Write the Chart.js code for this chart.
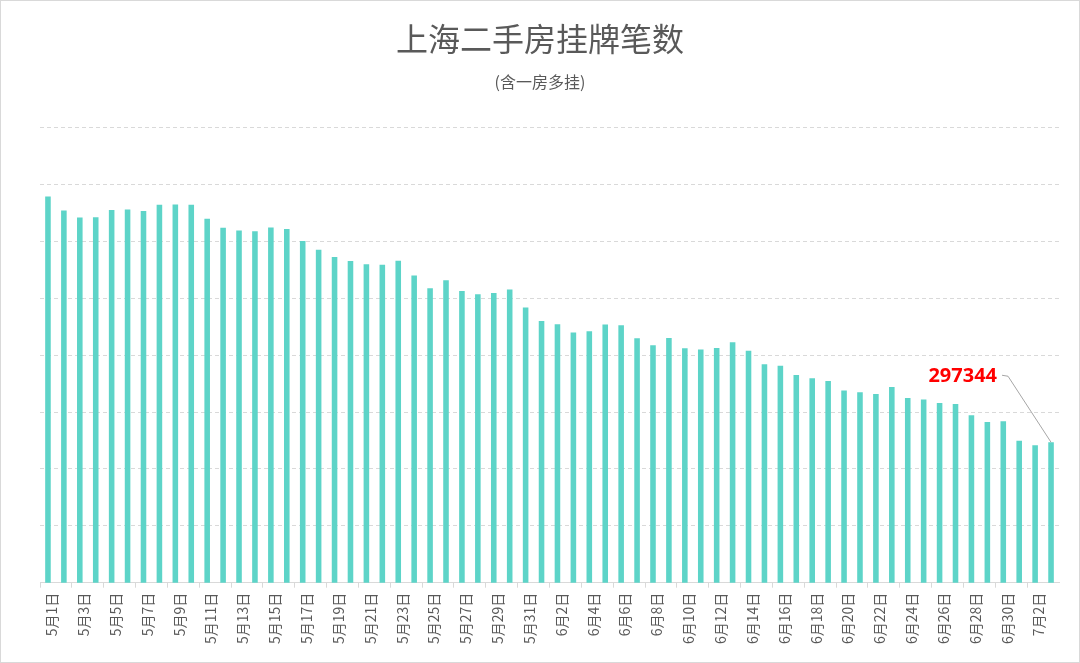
<!DOCTYPE html>
<html>
<head>
<meta charset="utf-8">
<script src="https://cdn.jsdelivr.net/npm/chart.js@4.4.1/dist/chart.umd.min.js"></script>
<style>
  html, body { margin: 0; padding: 0; background: #fff; }
  #wrap { width: 1080px; height: 663px; }
</style>
</head>
<body>
<div id="wrap"><canvas id="listingChart" width="1080" height="663"></canvas></div>
<script>
// 5月1日 - 7月3日, one bar per day
const monthDays = [["5月", 31], ["6月", 30], ["7月", 3]];
const dates = [];
monthDays.forEach(([m, n]) => { for (let d = 1; d <= n; d++) dates.push(`${m}${d}日`); });

// listings per day (last value labelled)
const listings = [
  318950, 317720, 317100, 317120, 317750, 317810, 317660, 318220, 318230, 318210,
  316990, 316200, 315960, 315880, 316230, 316080, 315030, 314270, 313620, 313270,
  312980, 312950, 313290, 311990, 310880, 311580, 310640, 310350, 310470, 310760,
  309180, 308010, 307720, 306990, 307100, 307690, 307630, 306490, 305880, 306500,
  305610, 305500, 305620, 306140, 305380, 304210, 304060, 303250, 302960, 302720,
  301900, 301730, 301580, 302190, 301230, 301110, 300790, 300700, 299710, 299120,
  299180, 297480, 297080, 297344
];

const yMin = 285000;
const yMax = 325000;
const yStep = 5000;

const textColor = "#595959";
const lineColor = "#d9d9d9";
const cjk = "'Noto Sans CJK SC', 'Noto Sans', sans-serif";

// red callout for the latest value + thin frame round the picture
const calloutPlugin = {
  id: "callout",
  afterDatasetsDraw(chart) {
    const {ctx, scales: {x, y}} = chart;
    const last = listings.length - 1;
    const bx = x.getPixelForValue(last);
    const by = y.getPixelForValue(listings[last]);
    ctx.save();
    ctx.strokeStyle = "#a6a6a6";
    ctx.lineWidth = 1;
    ctx.beginPath();
    ctx.moveTo(bx - 49, by - 67);
    ctx.lineTo(bx - 43, by - 66);
    ctx.lineTo(bx, by);
    ctx.stroke();
    ctx.fillStyle = "#ff0000";
    ctx.font = "bold 20px 'Noto Sans', sans-serif";
    ctx.textAlign = "right";
    ctx.textBaseline = "middle";
    ctx.fillText(String(listings[last]), bx - 54, by - 66);
    ctx.restore();
  },
  afterDraw(chart) {
    const {ctx, width, height} = chart;
    ctx.save();
    ctx.strokeStyle = lineColor;
    ctx.lineWidth = 1;
    ctx.strokeRect(0.5, 0.5, width - 1, height - 1);
    ctx.restore();
  }
};

const ctx = document.getElementById("listingChart").getContext("2d");
new Chart(ctx, {
  type: "bar",
  data: {
    labels: dates,
    datasets: [{
      label: "挂牌笔数",
      data: listings,
      backgroundColor: "#5DD4C8",
      borderWidth: 0,
      barPercentage: 0.35,
      categoryPercentage: 1
    }]
  },
  options: {
    responsive: false,
    animation: false,
    layout: { padding: { left: 0, right: 0, top: 0, bottom: 14 } },
    plugins: {
      legend: { display: false },
      tooltip: { enabled: false },
      title: {
        display: true,
        text: "上海二手房挂牌笔数",
        color: textColor,
        font: { family: cjk, size: 32, weight: "normal" },
        padding: { top: 20, bottom: 14 }
      },
      subtitle: {
        display: true,
        text: "(含一房多挂)",
        color: textColor,
        font: { family: cjk, size: 16, weight: "normal" },
        padding: { top: 0, bottom: 36 }
      }
    },
    scales: {
      x: {
        grid: {
          drawOnChartArea: false,
          drawTicks: true,
          tickLength: 5,
          offset: true,
          color: c => (c.index % 2 === 0 ? lineColor : "rgba(0,0,0,0)")
        },
        border: { display: true, color: lineColor, width: 1 },
        ticks: {
          autoSkip: false,
          minRotation: 90,
          maxRotation: 90,
          padding: 5,
          labelOffset: 4,
          color: textColor,
          font: { family: cjk, size: 14 },
          callback: function (v, i) { return i % 2 === 0 ? this.getLabelForValue(v) : ""; }
        }
      },
      y: {
        min: yMin,
        max: yMax,
        afterFit: s => { s.width = 40; },
        grid: {
          drawTicks: false,
          color: c => (c.index === 0 ? "rgba(0,0,0,0)" : lineColor),
          lineWidth: 1
        },
        border: { display: false, dash: [4, 3] },
        ticks: { display: false, stepSize: yStep }
      },
      yRight: {
        position: "right",
        min: yMin,
        max: yMax,
        afterFit: s => { s.width = 21; },
        grid: { display: false },
        border: { display: false },
        ticks: { display: false }
      }
    }
  },
  plugins: [calloutPlugin]
});
</script>
</body>
</html>
